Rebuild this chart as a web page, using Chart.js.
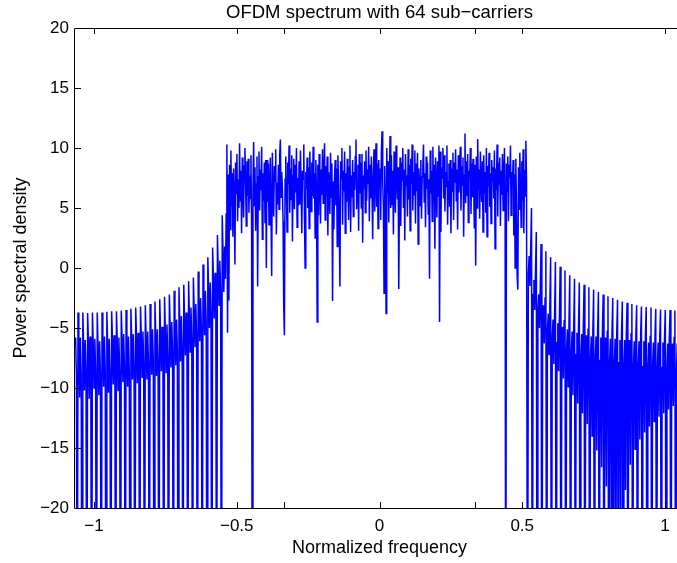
<!DOCTYPE html>
<html><head><meta charset="utf-8">
<script src="https://cdn.jsdelivr.net/npm/chart.js@4"></script>
<style>
html,body{margin:0;padding:0;overflow:hidden;background:#fff;width:677px;height:563px}
#wrap{position:absolute;left:0;top:0;width:759px;height:563px}
</style>
</head><body><div id="wrap"><canvas id="c" width="759" height="563"></canvas></div>
<script>
const titleText = 'OFDM spectrum with 64 sub\u2212carriers';
const xTitle = 'Normalized frequency';
const yTitle = 'Power spectral density';
const yTicks = [-20, -15, -10, -5, 0, 5, 10, 15, 20];
const xTickLabels = [-1, -0.5, 0, 0.5, 1];
const xTickMarks = [-1, -0.5, -0.333, 0, 0.333, 0.5, 1];
const xRange = [-1.0667, 1.0667];
const yRange = [-20, 20];

// left out-of-band region (sample grid start / spacing)
const leftStart = -1.0646, leftStep = 0.002807;
const leftPsd = [
-5.8, -8.9,
-40, -3.7, -6.2, -10.8, -5.8, -8.9,
-40, -3.7, -6.4, -10.2, -6.0, -8.6,
-40, -3.75, -6.1, -10.9, -5.7, -9.0,
-40, -3.7, -6.3, -10.0, -5.9, -8.7,
-40, -3.7, -6.5, -10.6, -6.1, -8.9,
-40, -3.7, -6.1, -9.9, -5.7, -8.5,
-40, -3.65, -6.3, -10.4, -5.9, -8.8,
-40, -3.6, -6.0, -9.7, -5.6, -8.4,
-40, -3.6, -6.2, -10.2, -5.8, -8.7,
-40, -3.55, -5.9, -9.5, -5.5, -8.3,
-40, -3.5, -6.1, -9.9, -5.7, -8.6,
-40, -3.4, -5.9, -9.3, -5.5, -8.2,
-40, -3.3, -5.8, -9.6, -5.4, -8.3,
-40, -3.2, -5.7, -9.1, -5.3, -8.0,
-40, -3.1, -5.8, -9.3, -5.3, -8.1,
-40, -3.0, -5.5, -8.9, -5.1, -7.8,
-40, -2.8, -5.6, -9.0, -5.1, -7.8,
-40, -2.6, -5.3, -8.6, -4.9, -7.5,
-40, -2.4, -5.2, -8.7, -4.7, -7.4,
-40, -2.2, -4.9, -8.3, -4.5, -7.1,
-40, -1.9, -4.8, -8.1, -4.3, -6.9,
-40, -1.6, -4.5, -7.8, -4.0, -6.6,
-40, -1.4, -4.2, -7.3, -3.7, -6.2,
-40, -1.1, -3.8, -7.0, -3.3, -5.9,
-40, -0.8, -3.5, -6.6, -3.0, -5.5,
-40, -0.3, -3.0, -6.1, -2.5, -5.0,
-40, 0.3, -2.4, -5.6, -1.9, -4.5,
-40, 0.9, -1.8, -5.0, -1.2, -3.8,
-40, 1.7, -0.9, -4.2, -0.4, -3.0,
-40, 2.75, -0.1, -3.1, 0.6, -2.0,
-40, 4.4, 1.1, -2.0, 1.8, -0.9
];

// in-band region
const bandStart = -0.537, bandEnd = 0.515;
const bandPsd = [
4.5, 10.3, -5.4, 7.8, -2.7, 8.6, 3.2, 9.8, 5.1, 7.9,
2.6, 8.3, 6.0, 0.3, 8.8, 6.2, 9.5, 3.9, 7.4, 5.0,
10.4, 5.6, 8.1, 2.9, 9.2, 6.8, 4.2, 8.5, 10.0, 7.3,
3.5, 8.9, 6.0, 9.1, 4.6, 7.7, 5.8, 9.4, 3.0, -40,
6.5, 10.5, 5.2, 8.4, 3.1, 7.0, 9.3, -1.55, 7.6, 9.7,
4.8, 8.2, 6.5, 10.1, 2.4, 7.9, 5.6, 8.8, 3.8, 9.0,
0.0, 9.0, 5.5, 8.7, 3.6, 6.9, 9.2, 4.4, -0.67, 9.6,
6.1, 4.3, 8.5, 7.2, 9.9, 2.8, 7.1, 5.3, 8.6, 4.9,
9.5, 10.7, 5.9, 8.0, 6.7, 3.9, -3.3, -5.6, 7.4, 9.3,
6.4, 3.0, 8.8, 7.0, 10.2, 4.6, 8.3, 5.7, 9.4, 2.2,
7.7, 9.1, 4.9, 8.6, 6.3, 10.0, 3.4, 7.5, 5.2, 8.9,
5.3, 9.8, 6.7, 2.9, 8.1, 7.4, 10.3, 4.1, 0.0, 8.0,
6.6, 9.2, 5.0, 8.4, 3.3, 9.7, 7.1, 4.7, 8.8, 6.0,
10.1, 5.8, 7.9, 2.5, 9.0, 6.2, -4.5, 8.6, 4.4, 9.5,
7.3, 3.7, 8.2, 6.1, 9.9, 5.4, 7.8, 10.4, 4.0, 8.5,
6.0, 9.3, 2.7, 8.0, 7.0, 4.5, 9.6, 5.9, 8.7, -2.75,
7.2, 3.2, 7.6, 9.0, 5.2, 8.3, 1.8, 9.4, 6.8, 4.2,
-1.55, 8.9, 7.5, 10.0, 3.6, 8.1, 6.4, 9.7, 2.9, 7.9,
5.5, 9.1, 6.9, 4.0, 8.4, 10.2, 3.0, 7.7, 5.9, 9.0,
4.3, 8.0, 6.5, 9.3, 10.7, 4.9, 7.2, 8.6, 3.1, 9.5,
6.2, 8.8, 5.0, 9.5, 2.1, 7.7, 6.6, 8.9, 4.6, 9.8,
5.6, 8.2, 7.0, 10.1, 3.9, 8.6, 5.8, 9.3, 6.6, 2.4,
8.0, 9.9, 4.7, 7.4, 10.4, 5.1, 8.7, 3.3, 9.0, 6.7,
8.3, 4.0, 9.6, 11.4, 7.1, 5.2, -2.1, 8.5, 5.9, -3.8,
10.0, 6.2, 8.9, 3.8, 7.3, 11.0, 5.0, 9.4, 5.3, 8.1,
2.8, 9.7, 6.5, 4.6, 10.2, 7.9, 5.7, 8.4, -1.75, 6.0,
9.2, 3.5, 8.8, 7.3, 10.0, 5.0, 8.2, 2.3, 9.5, 6.9,
7.7, 4.3, 9.9, 5.7, 8.6, 3.1, 9.1, 7.0, 10.3, 4.8,
8.0, 6.1, 9.8, 3.7, 8.7, 6.4, 9.6, 2.0, 8.3, 7.2,
5.2, 9.0, 4.1, 7.6, 8.5, 10.3, 5.5, 7.9, 3.4, 9.3,
6.6, 8.8, 4.5, 7.4, -0.9, 9.8, 6.2, 8.1, 3.9, 10.1,
5.4, 8.6, 1.6, 9.2, 7.0, 4.2, 8.9, 6.0, 10.2, -4.5,
9.7, 3.0, 8.4, 7.5, 10.0, 5.8, 9.4, 4.7, 8.0, 6.8,
10.2, 3.6, 7.2, 8.7, 5.1, 9.0, 2.9, 8.3, 6.4, 9.6,
4.0, 8.8, 7.1, 9.9, 5.6, 8.2, 3.2, 9.4, 6.3, 7.8,
10.1, 4.8, 8.5, 6.9, 9.2, 2.6, 7.7, 11.2, 5.4, 8.9,
6.0, 9.5, 3.8, 8.1, 7.4, 10.0, 4.5, 8.7, 5.9, 9.1,
7.0, 3.3, 8.6, 0.2, 9.3, 5.0, 10.75, 6.6, 8.2, 4.1,
9.7, 7.3, 5.5, 8.9, 3.0, 9.4, 6.2, 8.0, 4.6, 10.0,
2.6, 8.5, 6.8, 9.6, 5.1, 7.9, 3.7, 9.0, 7.2, 8.4,
5.8, 9.8, 1.6, 8.3, 6.5, 10.3, 4.3, 8.8, 7.0, 9.2,
3.5, 8.1, 6.1, 9.5, 4.8, 7.6, 10.0, 5.3, -40, 8.7,
6.4, 9.3, 3.9, 8.6, 7.5, 10.2, 4.4, 8.0, 6.9, 9.0,
2.7, 7.8, 0.0, 9.1, 5.2, -0.7, -1.8, 8.4, 4.9, 9.6,
6.7, 3.4, 8.9, 5.6, 9.9, 2.9, 8.2, 6.0, 10.6, 7.4
];

// right out-of-band region
const rightStart = 0.5186, rightStep = 0.00279;
const rightPsd = [
-40, -0.5, 1.0, -1.5, 1.8, 5.0,
-40, -2.2, -1.0, -3.5, -0.3, 3.0,
-40, -3.4, -2.2, -5.0, -1.5, 2.0,
-40, -4.4, -3.1, -6.3, -2.5, 1.4,
-40, -5.2, -3.8, -7.2, -3.2, 0.9,
-40, -5.8, -4.3, -8.0, -3.7, 0.5,
-40, -6.2, -4.6, -8.6, -4.1, 0.1,
-40, -6.5, -4.9, -9.2, -4.4, -0.2,
-40, -6.8, -5.1, -9.9, -4.6, -0.6,
-40, -7.0, -5.3, -10.6, -4.8, -0.9,
-40, -7.2, -5.4, -11.3, -4.9, -1.2,
-40, -7.3, -5.5, -12.1, -5.0, -1.4,
-40, -7.4, -5.6, -13.0, -5.1, -1.6,
-40, -7.5, -5.7, -14.0, -5.2, -1.8,
-40, -7.6, -5.7, -15.2, -5.2, -2.0,
-40, -7.7, -5.8, -16.6, -5.3, -2.2,
-40, -7.7, -5.8, -18.2, -5.3, -2.35,
-40, -7.8, -5.9, -20.5, -5.4, -2.5,
-40, -7.9, -5.9, -24.0, -5.4, -2.65,
-40, -7.9, -6.0, -22.0, -5.5, -2.8,
-40, -8.0, -6.0, -18.5, -5.5, -2.9,
-40, -8.0, -6.0, -16.4, -5.5, -3.0,
-40, -8.1, -6.1, -15.1, -5.6, -3.1,
-40, -8.1, -6.1, -14.3, -5.6, -3.2,
-40, -8.2, -6.1, -13.7, -5.6, -3.25,
-40, -8.2, -6.2, -13.2, -5.7, -3.3,
-40, -8.2, -6.2, -12.8, -5.7, -3.4,
-40, -8.3, -6.2, -12.4, -5.7, -3.45,
-40, -8.3, -6.2, -12.1, -5.7, -3.5,
-40, -8.3, -6.3, -11.8, -5.8, -3.5,
-40, -8.3, -6.3, -11.5, -5.8, -3.55,
-40, -8.4, -6.3, -11.3, -5.8, -3.6,
-40, -8.4, -6.3, -11.2, -5.8, -3.6,
-40
];

const FONT = "'Liberation Sans', Arial, Helvetica, sans-serif";
const fmt = v => (v < 0 ? '\u2212' : '') + Math.abs(v);

const pts = [];
leftPsd.forEach((v, i) => pts.push({x: leftStart + i * leftStep, y: v}));
const bandStep = (bandEnd - bandStart) / (bandPsd.length - 1);
bandPsd.forEach((v, i) => pts.push({x: bandStart + i * bandStep, y: v}));
rightPsd.forEach((v, i) => pts.push({x: rightStart + i * rightStep, y: v}));

const axesBox = {
  id: 'axesBox',
  afterDatasetsDraw(chart) {
    const {ctx, chartArea: a, scales: {x, y}} = chart;
    ctx.save();
    ctx.strokeStyle = '#000';
    ctx.lineWidth = 1;
    ctx.beginPath();
    ctx.rect(a.left - 0.5, a.top + 0.5, a.right - a.left, a.bottom - a.top);
    xTickMarks.forEach(v => {
      const px = Math.round(x.getPixelForValue(v)) + 0.5;
      ctx.moveTo(px, a.bottom); ctx.lineTo(px, a.bottom - 6);
      ctx.moveTo(px, a.top); ctx.lineTo(px, a.top + 6);
    });
    yTicks.forEach(v => {
      const py = Math.round(y.getPixelForValue(v)) + 0.5;
      ctx.moveTo(a.left, py); ctx.lineTo(a.left + 6, py);
      ctx.moveTo(a.right, py); ctx.lineTo(a.right - 6, py);
    });
    ctx.stroke();
    ctx.restore();
  }
};

new Chart(document.getElementById('c'), {
  type: 'line',
  data: {datasets: [{
    data: pts, borderColor: '#0000ff', borderWidth: 1.5, pointRadius: 0,
    tension: 0, fill: false, clip: 0
  }]},
  options: {
    responsive: false, animation: false, devicePixelRatio: 1,
    layout: {padding: 0},
    plugins: {
      legend: {display: false}, tooltip: {enabled: false},
      title: {display: true, text: titleText, color: '#000',
        font: {family: FONT, size: 18.5, weight: 'normal'}, padding: {top: 2, bottom: 3.8}}
    },
    scales: {
      x: {
        type: 'linear', min: xRange[0], max: xRange[1],
        grid: {display: false, drawTicks: false}, border: {display: false},
        afterBuildTicks: s => { s.ticks = xTickLabels.map(v => ({value: v})); },
        afterFit: s => { s.height = 55; },
        ticks: {color: '#000', font: {family: FONT, size: 17}, padding: 8,
          maxRotation: 0, autoSkip: false, callback: v => fmt(v)},
        title: {display: true, text: xTitle, color: '#000',
          font: {family: FONT, size: 18}, padding: {top: 0, bottom: 4}}
      },
      y: {
        type: 'linear', position: 'left', min: yRange[0], max: yRange[1],
        grid: {display: false, drawTicks: false}, border: {display: false},
        afterBuildTicks: s => { s.ticks = yTicks.map(v => ({value: v})); },
        afterFit: s => { s.width = 75; },
        ticks: {color: '#000', font: {family: FONT, size: 17}, padding: 6,
          autoSkip: false, callback: v => fmt(v)},
        title: {display: true, text: yTitle, color: '#000',
          font: {family: FONT, size: 18}, padding: {top: 10, bottom: 0}}
      },
      y2: {
        type: 'linear', position: 'right', min: yRange[0], max: yRange[1],
        grid: {display: false, drawTicks: false}, border: {display: false},
        ticks: {display: false},
        afterFit: s => { s.width = 75; }
      }
    }
  },
  plugins: [axesBox]
});
</script>
</body></html>
